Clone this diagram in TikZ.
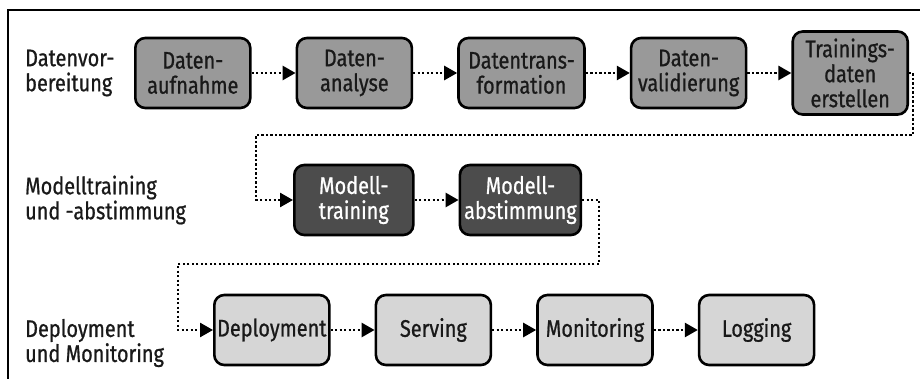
\documentclass[tikz,border=0pt]{standalone}
\usepackage{fontspec}
\setmainfont{Fira Sans}[FakeStretch=0.83, FakeBold=0.8]
\usetikzlibrary{positioning}
\usetikzlibrary{arrows.meta}

\begin{document}
\begin{tikzpicture}[x=1pt, y=-1pt, node distance=44pt, font=\fontsize{24}{25}\selectfont]
    \tikzstyle{block}=[draw=black, line width=2.6pt, rounded corners=10pt, minimum width=115pt, minimum height=70pt, inner sep=1pt, align=center, text=black!90]
    \tikzstyle{prep}=[block, fill=black!40]
    \tikzstyle{train}=[block, fill=black!70, text=white]
    \tikzstyle{deploy}=[block, fill=black!16]
    \tikzstyle{flow}=[draw=black, line width=2.6pt, dash pattern=on 2.2pt off 2.3pt, -{Triangle[length=13pt, width=14pt]}]
    \tikzstyle{phase}=[anchor=west, align=left, inner sep=0pt, text=black!90]

    \useasboundingbox (0,0) rectangle (920,379);
    \draw[line width=1.5pt] (920,10) -| (8,379);

    % Datenvorbereitung
    \node[phase] (vorbereitung) at (25,73) {Datenvor-\\bereitung};
    \node[prep, anchor=west] (aufnahme) at (134,73) {Daten-\\aufnahme};
    \node[prep, right=of aufnahme] (analyse) {Daten-\\analyse};
    \node[prep, right=of analyse, minimum width=126pt] (transformation) {Datentrans-\\formation};
    \node[prep, right=of transformation] (validierung) {Daten-\\validierung};
    \node[prep, right=of validierung, minimum height=83pt] (erstellen) {Trainings-\\daten\\erstellen};

    % Modelltraining
    \node[phase] (modellphase) at (25,200) {Modelltraining\\und -abstimmung};
    \node[train, anchor=west, minimum width=119pt] (training) at (293,200) {Modell-\\training};
    \node[train, right=of training, minimum width=121pt] (abstimmung) {Modell-\\abstimmung};

    % Deployment
    \node[phase] (deployphase) at (25,343) {Deployment\\und Monitoring};
    \node[deploy, anchor=west] (deployment) at (213,330) {Deployment};
    \node[deploy, right=of deployment] (serving) {Serving};
    \node[deploy, right=of serving] (monitoring) {Monitoring};
    \node[deploy, right=of monitoring] (logging) {Logging};

    \coordinate (turnA) at (913,135);
    \coordinate (turnB) at (256,135);
    \coordinate (turnC) at (599,264);
    \coordinate (turnD) at (178,264);

    \draw[flow] (aufnahme) -- (analyse);
    \draw[flow] (analyse) -- (transformation);
    \draw[flow] (transformation) -- (validierung);
    \draw[flow] (validierung) -- (erstellen);
    \draw[flow] (erstellen.east) -| (turnA) -- (turnB) |- (training.west);
    \draw[flow] (training) -- (abstimmung);
    \draw[flow] (abstimmung.east) -| (turnC) -- (turnD) |- (deployment.west);
    \draw[flow] (deployment) -- (serving);
    \draw[flow] (serving) -- (monitoring);
    \draw[flow] (monitoring) -- (logging);
\end{tikzpicture}
\end{document}
